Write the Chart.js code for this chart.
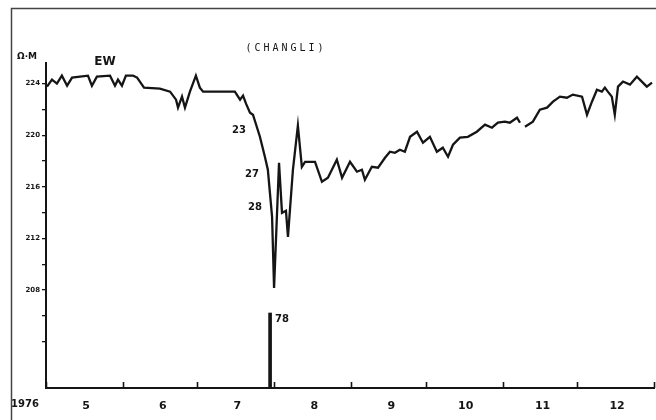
<!DOCTYPE html>
<html><head><meta charset="utf-8">
<script src="https://cdn.jsdelivr.net/npm/chart.js@4"></script>
<style>html,body{margin:0;padding:0;background:#fff}canvas{display:block}</style>
</head><body>
<canvas id="c" width="656" height="420"></canvas>
<script>
// Month boundaries (days since 1 May 1976) and month labels
const monthStarts = [0, 31, 61, 92, 123, 153, 184, 214, 245];
const monthLabels = ['5', '6', '7', '8', '9', '10', '11', '12', ''];
// Y ticks (apparent resistivity, ohm-m)
const yTicks = [204, 206, 208, 210, 212, 214, 216, 218, 220, 222, 224];
const yLabelled = [208, 212, 216, 220, 224];
// EW apparent resistivity, Changli station
const days = [0.4, 2.4, 4.4, 6.4, 8.5, 10.5, 13.7, 16.9, 18.5, 20.5, 25.8, 27.8, 29.0, 30.6, 32.2, 35.1, 36.7, 39.5, 45.9, 50.0,
  52.4, 53.2, 54.8, 56.0, 58.0, 60.4, 62.0, 63.3, 76.1, 78.2, 79.4, 80.6, 82.2, 83.4, 86.2, 88.2, 89.4, 91.1, 91.9, 93.9,
  95.1, 96.7, 97.5, 99.5, 101.5, 103.1, 104.4, 108.4, 111.2, 113.6, 117.2, 119.3, 122.5, 125.3, 127.3, 128.5, 131.3, 133.8, 136.6, 138.6,
  140.6, 142.6, 144.6, 146.7, 149.5, 151.9, 154.7, 157.5, 159.9, 162.0, 164.0, 166.8, 170.0, 173.6, 176.9, 179.7, 182.1, 184.9, 186.9, 189.8,
  191.0, 192.0, 193.0, 196.2, 199.0, 201.9, 204.3, 207.1, 209.9, 212.3, 216.0, 218.0, 220.0, 222.0, 224.0, 225.2, 226.4, 228.0, 229.2, 230.5,
  232.5, 235.3, 238.1, 240.1, 242.1, 244.2];
const resistivity = [223.77, 224.31, 224.00, 224.62, 223.84, 224.47, 224.54, 224.62, 223.84, 224.54, 224.62, 223.84, 224.31, 223.84, 224.62, 224.62, 224.47, 223.69, 223.61, 223.38,
  222.76, 222.14, 222.99, 222.14, 223.38, 224.62, 223.69, 223.38, 223.38, 222.76, 223.07, 222.45, 221.75, 221.59, 219.88, 218.33, 217.32, 213.67, 208.16, 217.86,
  213.98, 214.14, 212.12, 217.32, 220.74, 217.55, 217.94, 217.94, 216.39, 216.70, 218.10, 216.70, 217.94, 217.17, 217.32, 216.54, 217.55, 217.48, 218.25, 218.72,
  218.64, 218.87, 218.72, 219.88, 220.27, 219.42, 219.88, 218.72, 219.03, 218.33, 219.26, 219.81, 219.88, 220.27, 220.82, 220.58, 220.97, 221.05, 220.97, 221.36,
  220.97, null, 220.66, 221.05, 221.98, 222.14, 222.60, 222.99, 222.91, 223.15, 222.99, 221.59, 222.60, 223.53, 223.38, 223.69, 223.38, 222.99, 221.59, 223.77,
  224.16, 223.92, 224.54, 224.16, 223.77, 224.08];
// Earthquake marker (magnitude)
const quakeDays = [90.3];
const quakeMagnitude = [7.8];
const quakeLabels = ['78'];
// Date notes along the curve
const dateNotes = ['23', '27', '28'];
const dateNoteDays = [77.8, 83.0, 84.2];
const dateNoteValues = [220.35, 216.93, 214.37];

const INK = '#151515';

const extras = {
  id: 'extras',
  beforeDraw(chart) {
    const c = chart.ctx;
    c.save();
    c.fillStyle = '#fff';
    c.fillRect(0, 0, chart.width, chart.height);
    c.strokeStyle = '#444';
    c.lineWidth = 1.5;
    c.beginPath();
    c.moveTo(11.5, chart.height);
    c.lineTo(11.5, 8.5);
    c.lineTo(chart.width, 8.5);
    c.stroke();
    c.restore();
  },
  afterDraw(chart) {
    const c = chart.ctx, x = chart.scales.x, y = chart.scales.y, m = chart.scales.yMag, a = chart.chartArea;
    c.save();
    c.fillStyle = INK; c.strokeStyle = INK; c.lineWidth = 1.6;
    monthStarts.forEach(d => {
      const px = Math.round(x.getPixelForValue(d)) + 0.5;
      c.beginPath(); c.moveTo(px, a.bottom); c.lineTo(px, a.bottom - 6); c.stroke();
    });
    c.font = 'bold 10px "DejaVu Sans"';
    c.textAlign = 'center'; c.textBaseline = 'middle';
    dateNotes.forEach((t, i) => c.fillText(t, x.getPixelForValue(dateNoteDays[i]), y.getPixelForValue(dateNoteValues[i])));
    c.textAlign = 'left';
    quakeLabels.forEach((t, i) => c.fillText(t, x.getPixelForValue(quakeDays[i]) + 5, m.getPixelForValue(quakeMagnitude[i]) + 6));
    c.textAlign = 'center';
    c.font = 'bold 10px "DejaVu Sans"';
    c.fillText('1976', 25, 404);
    c.font = 'bold 9px "DejaVu Sans"';
    c.fillText('Ω·M', 27, 57);
    c.font = 'bold 12px "DejaVu Sans"';
    c.fillText('EW', 105, 62);
    c.font = '10px "DejaVu Sans Mono"';
    c.letterSpacing = '3px';
    c.fillText('(CHANGLI)', 286, 48);
    c.restore();
  }
};

new Chart(document.getElementById('c'), {
  type: 'line',
  data: {
    datasets: [
      {
        label: 'EW',
        data: days.map((d, i) => ({ x: d, y: resistivity[i] })),
        borderColor: INK,
        borderWidth: 2.3,
        pointRadius: 0,
        tension: 0,
        spanGaps: false,
        yAxisID: 'y'
      },
      {
        type: 'bar',
        label: 'M',
        data: quakeDays.map((d, i) => ({ x: d, y: quakeMagnitude[i] })),
        backgroundColor: INK,
        barThickness: 3,
        yAxisID: 'yMag'
      }
    ]
  },
  plugins: [extras],
  options: {
    responsive: false,
    animation: false,
    layout: { padding: { top: 63, right: 2, left: 0, bottom: 0 } },
    plugins: { legend: { display: false }, tooltip: { enabled: false } },
    scales: {
      x: {
        type: 'linear',
        min: 0, max: 245,
        offset: false,
        afterBuildTicks: s => { s.ticks = monthStarts.map(v => ({ value: v })); },
        afterFit: s => { s.height = 32; s.paddingLeft = 0; s.paddingRight = 0; },
        grid: { display: false },
        border: { display: true, color: INK, width: 2 },
        ticks: {
          autoSkip: false, maxRotation: 0,
          labelOffset: 40, padding: 4,
          color: INK,
          font: { family: 'DejaVu Sans', weight: 'bold', size: 11 },
          callback: (v) => { const i = monthStarts.indexOf(v); return i >= 0 ? monthLabels[i] : ''; }
        }
      },
      y: {
        min: 200.4, max: 225.6,
        afterBuildTicks: s => { s.ticks = yTicks.map(v => ({ value: v })); },
        afterFit: s => { s.width = 46; },
        grid: { drawOnChartArea: false, drawTicks: true, tickLength: 4, color: INK, lineWidth: 1.3 },
        border: { display: true, color: INK, width: 2 },
        ticks: {
          autoSkip: false, padding: 2, color: INK,
          font: { family: 'DejaVu Sans', weight: 'bold', size: 7 },
          callback: v => yLabelled.includes(v) ? String(v) : ''
        }
      },
      yMag: {
        display: false,
        min: 0, max: 33.8
      }
    }
  }
});
</script>
</body></html>
